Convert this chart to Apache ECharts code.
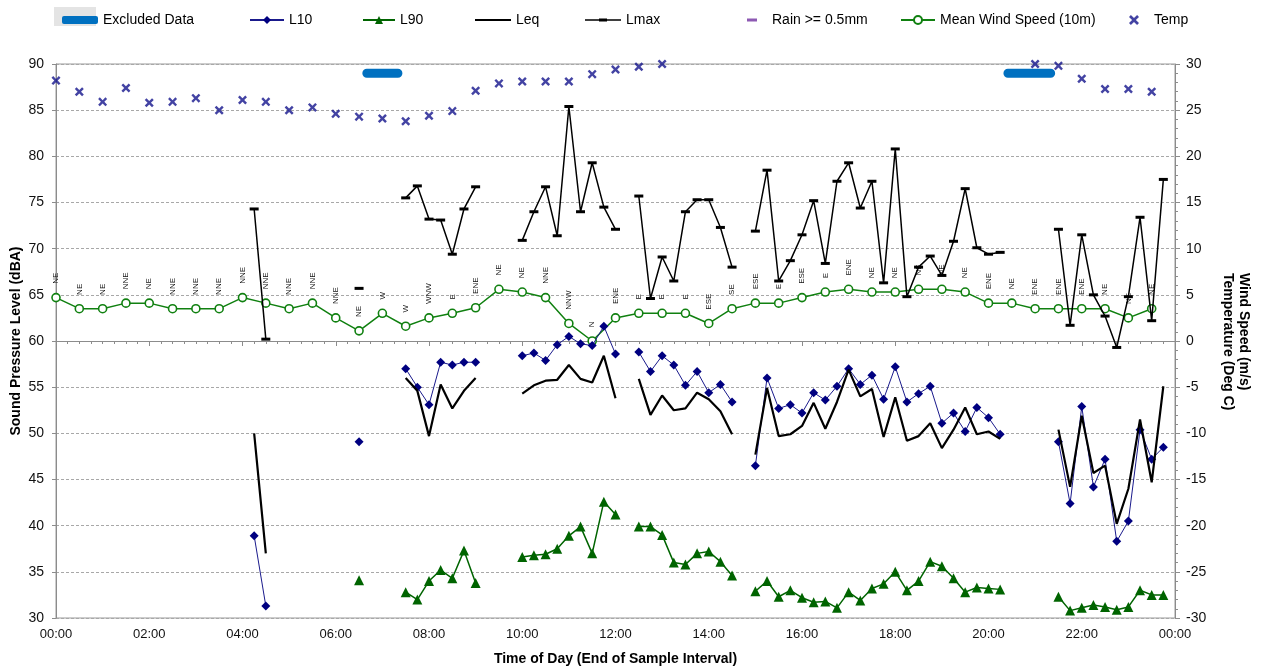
<!DOCTYPE html>
<html>
<head>
<meta charset="utf-8">
<script src="https://cdn.jsdelivr.net/npm/echarts@6/dist/echarts.min.js"></script>
<style>
  html, body { margin: 0; padding: 0; background: #ffffff; }
  #chart { width: 1261px; height: 672px; }
</style>
</head>
<body>
<div id="chart"></div>
<script>
// ---- 15-minute noise samples (time = end of sample interval); null = no data ----
const noiseTimes = [
  '04:15','04:30','04:45',
  '06:30','06:45',
  '07:30','07:45','08:00','08:15','08:30','08:45','09:00','09:15',
  '10:00','10:15','10:30','10:45','11:00','11:15','11:30','11:45','12:00','12:15',
  '12:30','12:45','13:00','13:15','13:30','13:45','14:00','14:15','14:30','14:45',
  '15:00','15:15','15:30','15:45','16:00','16:15','16:30','16:45','17:00','17:15',
  '17:30','17:45','18:00','18:15','18:30','18:45','19:00','19:15','19:30','19:45',
  '20:00','20:15','20:30',
  '21:30','21:45','22:00','22:15','22:30','22:45','23:00','23:15','23:30','23:45'
];
const l10 = [
  38.9, 31.3, null,
  49.1, null,
  57.0, 55.0, 53.1, 57.7, 57.4, 57.7, 57.7, null,
  58.4, 58.7, 57.9, 59.6, 60.5, 59.7, 59.5, 61.6, 58.6, null,
  58.8, 56.7, 58.4, 57.4, 55.2, 56.7, 54.4, 55.3, 53.4, null,
  46.5, 56.0, 52.7, 53.1, 52.2, 54.4, 53.6, 55.1, 57.0, 55.3,
  56.3, 53.7, 57.2, 53.4, 54.3, 55.1, 51.1, 52.2, 50.2, 52.8,
  51.7, 49.9, null,
  49.1, 42.4, 52.9, 44.2, 47.2, 38.3, 40.5, 50.4, 47.2, 48.5
];
const l90 = [
  null, null, null,
  34.1, null,
  32.8, 32.0, 34.0, 35.2, 34.3, 37.3, 33.8, null,
  36.6, 36.8, 36.9, 37.5, 38.9, 39.9, 37.0, 42.6, 41.2, null,
  39.9, 39.9, 39.0, 36.0, 35.8, 37.0, 37.2, 36.1, 34.6, null,
  32.9, 34.0, 32.3, 33.0, 32.2, 31.7, 31.8, 31.1, 32.8, 31.9,
  33.2, 33.7, 35.0, 33.0, 34.0, 36.1, 35.6, 34.3, 32.8, 33.3,
  33.2, 33.1, null,
  32.3, 30.8, 31.1, 31.4, 31.2, 30.9, 31.2, 33.0, 32.5, 32.5
];
const leq = [
  50.0, 37.0, null,
  null, null,
  56.0, 54.6, 49.7, 55.3, 52.7, 54.6, 56.0, null,
  54.3, 55.2, 55.7, 55.8, 57.4, 55.9, 55.5, 58.4, 53.8, null,
  55.9, 52.0, 54.1, 52.5, 52.7, 54.4, 53.7, 52.4, 49.9, null,
  47.7, 54.9, 49.7, 49.9, 50.8, 53.3, 50.5, 53.4, 56.9, 54.0,
  54.8, 49.6, 53.9, 49.2, 49.7, 51.1, 48.4, 50.4, 52.8, 49.9,
  50.2, 49.4, null,
  50.4, 44.2, 51.9, 45.7, 46.5, 40.2, 44.0, 51.5, 44.7, 55.1
];
const lmax = [
  74.3, 60.2, null,
  65.7, null,
  75.5, 76.8, 73.2, 73.1, 69.4, 74.3, 76.7, null,
  70.9, 74.0, 76.7, 71.4, 85.4, 74.0, 79.3, 74.5, 72.1, null,
  75.7, 64.6, 69.1, 66.5, 74.0, 75.3, 75.3, 72.3, 68.0, null,
  71.9, 78.5, 66.5, 68.7, 71.5, 75.2, 68.4, 77.3, 79.3, 74.4,
  77.3, 66.3, 80.8, 64.8, 68.0, 69.2, 67.1, 70.8, 76.5, 70.1,
  69.4, 69.6, null,
  72.1, 61.7, 71.5, 65.0, 62.7, 59.3, 64.8, 73.4, 62.2, 77.5
];

// ---- 30-minute weather samples ----
const weatherTimes = [
  '00:00','00:30','01:00','01:30','02:00','02:30','03:00','03:30',
  '04:00','04:30','05:00','05:30','06:00','06:30','07:00','07:30',
  '08:00','08:30','09:00','09:30','10:00','10:30','11:00','11:30',
  '12:00','12:30','13:00','13:30','14:00','14:30','15:00','15:30',
  '16:00','16:30','17:00','17:30','18:00','18:30','19:00','19:30',
  '20:00','20:30','21:00','21:30','22:00','22:30','23:00','23:30'
];
const windSpeed = [
  4.7, 3.5, 3.5, 4.1, 4.1, 3.5, 3.5, 3.5,
  4.7, 4.1, 3.5, 4.1, 2.5, 1.1, 3.0, 1.6,
  2.5, 3.0, 3.6, 5.6, 5.3, 4.7, 1.9, 0.0,
  2.5, 3.0, 3.0, 3.0, 1.9, 3.5, 4.1, 4.1,
  4.7, 5.3, 5.6, 5.3, 5.3, 5.6, 5.6, 5.3,
  4.1, 4.1, 3.5, 3.5, 3.5, 3.5, 2.5, 3.5
];
const windDir = [
  'NE','NE','NE','NNE','NE','NNE','NNE','NNE',
  'NNE','NNE','NNE','NNE','NNE','NE','W','W',
  'WNW','E','ENE','NE','NE','NNE','NNW','N',
  'ENE','E','E','E','ESE','SE','ESE','E',
  'ESE','E','ENE','NE','NE','NE','NE','NE',
  'ENE','NE','ENE','ENE','ENE','NE','NE','NE'
];
const temperature = [
  28.2, 27.0, 25.9, 27.4, 25.8, 25.9, 26.3, 25.0,
  26.1, 25.9, 25.0, 25.3, 24.6, 24.3, 24.1, 23.8,
  24.4, 24.9, 27.1, 27.9, 28.1, 28.1, 28.1, 28.9,
  29.4, 29.7, 30.0, null, null, null, null, null,
  null, null, null, null, null, null, null, null,
  null, null, 30.0, 29.8, 28.4, 27.3, 27.3, 27.0
];

// ---- excluded periods (drawn as a bar near the top of the plot) ----
const excludedStart = ['06:40', '20:25'];
const excludedEnd   = ['07:20', '21:20'];
const excludedLevel = 89;

// ---- axis tick labels ----
const hourLabels = ['00:00','02:00','04:00','06:00','08:00','10:00','12:00',
                    '14:00','16:00','18:00','20:00','22:00','00:00'];

const FONT = '"Liberation Sans", Arial, sans-serif';

function toHours(t) {
  const p = t.split(':').map(Number);
  return p[0] + p[1] / 60;
}
function pairs(times, vals) {
  return times.map((t, i) => [toHours(t), vals[i] == null ? '-' : vals[i]]);
}
const excludedData = [];
excludedStart.forEach((s, i) => {
  if (i > 0) excludedData.push([(toHours(excludedEnd[i - 1]) + toHours(s)) / 2, '-']);
  excludedData.push([toHours(s), excludedLevel]);
  excludedData.push([toHours(excludedEnd[i]), excludedLevel]);
});

const crossPath = 'path://M0,1.9 L1.9,0 L5,3.1 L8.1,0 L10,1.9 L6.9,5 L10,8.1 L8.1,10 L5,6.9 L1.9,10 L0,8.1 L3.1,5 Z';
// legend glyph for Lmax: thin line with a short bar in the middle
const lmaxIcon = 'path://M0,0.8 L14,0.8 L14,0 L22,0 L22,0.8 L36,0.8 L36,2.2 L22,2.2 L22,3 L14,3 L14,2.2 L0,2.2 Z';

const legendBase = {
  top: 8, itemGap: 0,
  textStyle: { fontFamily: FONT, fontSize: 14, color: '#000' }
};
function legendAt(name, left, extra) {
  return Object.assign({}, legendBase, { left: left, data: [name] }, extra || {});
}

const chart = echarts.init(document.getElementById('chart'), null, { renderer: 'canvas' });

chart.setOption({
  animation: false,
  backgroundColor: '#ffffff',
  textStyle: { fontFamily: FONT },
  graphic: [
    { type: 'rect', left: 54, top: 7, z: -1,
      shape: { width: 42, height: 19 }, style: { fill: '#e4e4e4' } },
    { type: 'text', x: 1236, y: 273, rotation: -Math.PI / 2,
      style: { text: 'Wind Speed (m/s)\nTemperature (Deg C)',
               font: 'bold 14px ' + FONT, fill: '#000',
               align: 'left', verticalAlign: 'middle', lineHeight: 16 } }
  ],
  legend: [
    legendAt('Excluded Data', 57, { itemWidth: 36, itemHeight: 8, icon: 'roundRect' }),
    legendAt('L10', 244, { itemWidth: 34, itemHeight: 10 }),
    legendAt('L90', 357, { itemWidth: 32, itemHeight: 10 }),
    legendAt('Leq', 470, { itemWidth: 36, itemHeight: 2.2, icon: 'rect' }),
    legendAt('Lmax', 580, { itemWidth: 36, itemHeight: 3, icon: lmaxIcon }),
    legendAt('Rain >= 0.5mm', 742, { itemWidth: 10, itemHeight: 3, icon: 'rect',
      textStyle: { fontFamily: FONT, fontSize: 14, color: '#000', padding: [0, 0, 0, 10] } }),
    legendAt('Mean Wind Speed (10m)', 895, { itemWidth: 34, itemHeight: 10 }),
    legendAt('Temp', 1124, { itemWidth: 10, itemHeight: 10,
      textStyle: { fontFamily: FONT, fontSize: 14, color: '#000', padding: [0, 0, 0, 10] } })
  ],
  grid: { left: 56, right: 86, top: 64, bottom: 54, show: true,
          outerBoundsMode: 'none', containLabel: false,
          borderColor: '#9a9a9a', borderWidth: 1, backgroundColor: 'transparent' },
  xAxis: {
    type: 'value', min: 0, max: 24, interval: 2,
    name: 'Time of Day (End of Sample Interval)',
    nameLocation: 'middle', nameGap: 34, nameMoveOverlap: false,
    nameTextStyle: { fontFamily: FONT, fontSize: 14, fontWeight: 'bold', color: '#000' },
    axisLine: { show: true, lineStyle: { color: '#8c8c8c', width: 1 } },
    axisTick: { show: true, length: 5, lineStyle: { color: '#8c8c8c' } },
    minorTick: { show: true, splitNumber: 8, length: 3, lineStyle: { color: '#8c8c8c' } },
    splitLine: { show: false },
    axisLabel: { fontFamily: FONT, fontSize: 13, color: '#111', margin: 10,
                 formatter: v => hourLabels[Math.round(v / 2)] }
  },
  yAxis: [
    {
      type: 'value', min: 30, max: 90, interval: 5, position: 'left',
      name: 'Sound Pressure Level (dBA)', nameLocation: 'middle', nameGap: 33,
      nameMoveOverlap: false,
      nameTextStyle: { fontFamily: FONT, fontSize: 14, fontWeight: 'bold', color: '#000' },
      axisLine: { show: true, lineStyle: { color: '#8c8c8c', width: 1 } },
      axisTick: { show: true, length: 4, lineStyle: { color: '#8c8c8c' } },
      splitLine: { show: true, lineStyle: { color: '#a8a8a8', type: [3, 2], width: 1 } },
      axisLabel: { fontFamily: FONT, fontSize: 14, color: '#111', margin: 12 }
    },
    {
      type: 'value', min: -30, max: 30, interval: 5, position: 'right',
      axisLine: { show: true, lineStyle: { color: '#8c8c8c', width: 1 } },
      axisTick: { show: true, length: 5, lineStyle: { color: '#8c8c8c' } },
      minorTick: { show: true, splitNumber: 5, length: 3, lineStyle: { color: '#8c8c8c' } },
      splitLine: { show: false },
      axisLabel: { fontFamily: FONT, fontSize: 14, color: '#111', margin: 11 }
    }
  ],
  series: [
    {
      name: 'Excluded Data', type: 'line', data: excludedData,
      symbol: 'none', color: '#0070c0',
      lineStyle: { width: 9, cap: 'round', color: '#0070c0' }, z: 3
    },
    {
      name: 'L10', type: 'line', data: pairs(noiseTimes, l10),
      color: '#000080', symbol: 'diamond', symbolSize: 9,
      lineStyle: { width: 1, color: '#1a1a8c' }, itemStyle: { color: '#000080' }, z: 4
    },
    {
      name: 'L90', type: 'line', data: pairs(noiseTimes, l90),
      color: '#006400', symbol: 'triangle', symbolSize: 10,
      lineStyle: { width: 1.5, color: '#006400' }, itemStyle: { color: '#006400' }, z: 4
    },
    {
      name: 'Leq', type: 'line', data: pairs(noiseTimes, leq),
      color: '#000000', symbol: 'none',
      lineStyle: { width: 2.2, color: '#000000' }, z: 5
    },
    {
      name: 'Lmax', type: 'line', data: pairs(noiseTimes, lmax),
      color: '#000000', symbol: 'rect', symbolSize: [9, 3],
      lineStyle: { width: 1.5, color: '#000000' }, itemStyle: { color: '#000000' }, z: 5
    },
    {
      name: 'Rain >= 0.5mm', type: 'scatter', data: [],
      color: '#7030a0', symbol: 'rect', symbolSize: [10, 3]
    },
    {
      name: 'Mean Wind Speed (10m)', type: 'line', yAxisIndex: 1,
      data: pairs(weatherTimes, windSpeed),
      color: '#108010', symbol: 'circle', symbolSize: 8,
      lineStyle: { width: 1.5, color: '#108010' },
      itemStyle: { color: '#ffffff', borderColor: '#108010', borderWidth: 1.6 },
      label: {
        show: true, position: 'top', distance: 9, rotate: 90,
        align: 'left', verticalAlign: 'middle',
        fontFamily: FONT, fontSize: 8, color: '#111',
        formatter: p => windDir[p.dataIndex]
      },
      z: 3
    },
    {
      name: 'Temp', type: 'scatter', yAxisIndex: 1,
      data: pairs(weatherTimes, temperature),
      color: '#14148c', symbol: crossPath, symbolSize: 9,
      itemStyle: { color: '#14148c' }, z: 4
    }
  ]
});
</script>
</body>
</html>
